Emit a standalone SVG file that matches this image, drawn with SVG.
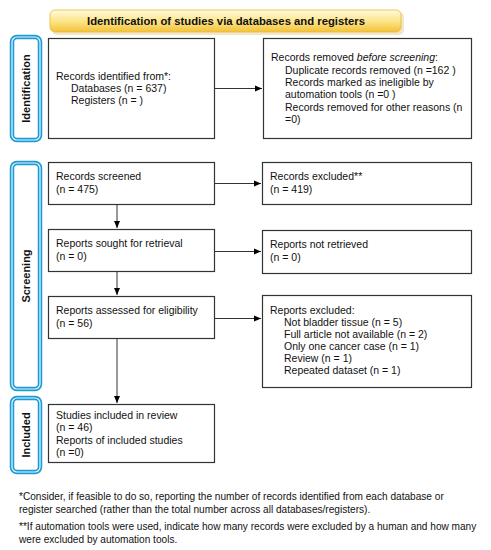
<svg xmlns="http://www.w3.org/2000/svg" width="491" height="550" viewBox="0 0 491 550">
<defs>
<linearGradient id="hdr" x1="0" y1="0" x2="0" y2="1">
<stop offset="0" stop-color="#fffbe0"/>
<stop offset="0.5" stop-color="#fde58a"/>
<stop offset="1" stop-color="#f3c23a"/>
</linearGradient>
<marker id="ah" markerWidth="8" markerHeight="8" refX="7" refY="4" orient="auto" markerUnits="userSpaceOnUse">
<path d="M0,1 L7,4 L0,7 Z" fill="#000"/>
</marker>
<style>
.box{fill:#fff;stroke:#333;stroke-width:1.2}
.t{font-family:"Liberation Sans",Arial,sans-serif;font-size:10.5px;fill:#111}
.f{font-family:"Liberation Sans",Arial,sans-serif;font-size:10.1px;fill:#111}
.side{fill:#fff;stroke:#1b9ad6;stroke-width:4.5}
.sidein{fill:none;stroke:#e8f6fc;stroke-width:1.2}
.st{font-family:"Liberation Sans",Arial,sans-serif;font-size:11px;font-weight:bold;fill:#111}
.c{stroke:#333;stroke-width:1;fill:none}
</style>
</defs>
<rect width="491" height="550" fill="#fff"/>
<g id="header">
<rect x="52" y="12" width="352" height="23" rx="5" fill="#e8d9a8" opacity="0.6"/>
<rect x="50" y="10" width="351" height="22" rx="5" fill="url(#hdr)" stroke="#e8b930" stroke-width="0.8"/>
<text x="226" y="25" text-anchor="middle" class="st" style="font-size:10.8px" textLength="278" lengthAdjust="spacingAndGlyphs">Identification of studies via databases and registers</text>
</g>
<g id="label-identification">
<rect x="12" y="37" width="28" height="103" rx="5" class="side"/>
<rect x="12" y="37" width="28" height="103" rx="5" class="sidein"/>
<text transform="translate(30,88.5) rotate(-90)" text-anchor="middle" class="st">Identification</text>
</g>
<g id="label-screening">
<rect x="12" y="163" width="28" height="226" rx="5" class="side"/>
<rect x="12" y="163" width="28" height="226" rx="5" class="sidein"/>
<text transform="translate(30,276) rotate(-90)" text-anchor="middle" class="st">Screening</text>
</g>
<g id="label-included">
<rect x="12" y="398" width="28" height="74" rx="5" class="side"/>
<rect x="12" y="398" width="28" height="74" rx="5" class="sidein"/>
<text transform="translate(30,435) rotate(-90)" text-anchor="middle" class="st">Included</text>
</g>
<g id="records-identified">
<rect x="48.5" y="38.5" width="166" height="100" class="box"/>
<text class="t" x="56" y="80">Records identified from*:</text>
<text class="t" x="71" y="92">Databases (n = 637)</text>
<text class="t" x="71" y="104">Registers (n = )</text>
</g>
<g id="records-removed">
<rect x="263.5" y="38.5" width="208" height="100" class="box"/>
<text class="t" x="271" y="61">Records removed <tspan font-style="italic">before screening</tspan>:</text>
<text class="t" x="285" y="74">Duplicate records removed  (n =162 )</text>
<text class="t" x="285" y="86">Records marked as ineligible by</text>
<text class="t" x="285" y="98">automation tools (n =0 )</text>
<text class="t" x="285" y="111">Records removed for other reasons (n</text>
<text class="t" x="285" y="123">=0)</text>
</g>
<g id="records-screened">
<rect x="48.5" y="162.5" width="166" height="42" class="box"/>
<text class="t" x="56" y="180">Records screened</text>
<text class="t" x="56" y="193">(n = 475)</text>
</g>
<g id="records-excluded">
<rect x="262.5" y="162.5" width="209" height="42" class="box"/>
<text class="t" x="270" y="180">Records excluded**</text>
<text class="t" x="270" y="193">(n = 419)</text>
</g>
<g id="reports-sought">
<rect x="48.5" y="229.5" width="166" height="42" class="box"/>
<text class="t" x="56" y="247">Reports sought for retrieval</text>
<text class="t" x="56" y="260">(n = 0)</text>
</g>
<g id="reports-not-retrieved">
<rect x="262.5" y="230.5" width="209" height="43" class="box"/>
<text class="t" x="270" y="248">Reports not retrieved</text>
<text class="t" x="270" y="261">(n = 0)</text>
</g>
<g id="reports-assessed">
<rect x="48.5" y="296.5" width="166" height="42" class="box"/>
<text class="t" x="56" y="314">Reports assessed for eligibility</text>
<text class="t" x="56" y="327">(n = 56)</text>
</g>
<g id="reports-excluded">
<rect x="262.5" y="295.5" width="209" height="92" class="box"/>
<text class="t" x="270" y="314">Reports excluded:</text>
<text class="t" x="284" y="326">Not bladder tissue (n = 5)</text>
<text class="t" x="284" y="338">Full article not available (n = 2)</text>
<text class="t" x="284" y="350">Only one cancer case (n = 1)</text>
<text class="t" x="284" y="362">Review  (n = 1)</text>
<text class="t" x="284" y="374">Repeated dataset  (n = 1)</text>
</g>
<g id="studies-included">
<rect x="48.5" y="404.5" width="166" height="58" class="box"/>
<text class="t" x="56" y="419">Studies included in review</text>
<text class="t" x="56" y="431">(n = 46)</text>
<text class="t" x="56" y="444">Reports of included studies</text>
<text class="t" x="56" y="456">(n =0)</text>
</g>
<g id="connectors">
<line class="c" x1="215" y1="88.5" x2="262" y2="88.5" marker-end="url(#ah)"/>
<line class="c" x1="215" y1="183.5" x2="261" y2="183.5" marker-end="url(#ah)"/>
<line class="c" x1="215" y1="251.5" x2="261" y2="251.5" marker-end="url(#ah)"/>
<line class="c" x1="215" y1="318.5" x2="261" y2="318.5" marker-end="url(#ah)"/>
<line class="c" x1="117" y1="205" x2="117" y2="228" marker-end="url(#ah)"/>
<line class="c" x1="117" y1="272" x2="117" y2="295" marker-end="url(#ah)"/>
<line class="c" x1="117" y1="339" x2="117" y2="403" marker-end="url(#ah)"/>
</g>
<g id="footnotes">
<text class="f" x="19" y="500">*Consider, if feasible to do so, reporting the number of records identified from each database or</text>
<text class="f" x="19" y="513">register searched (rather than the total number across all databases/registers).</text>
<text class="f" x="19" y="530">**If automation tools were used, indicate how many records were excluded by a human and how many</text>
<text class="f" x="19" y="543">were excluded by automation tools.</text>
</g>
</svg>
